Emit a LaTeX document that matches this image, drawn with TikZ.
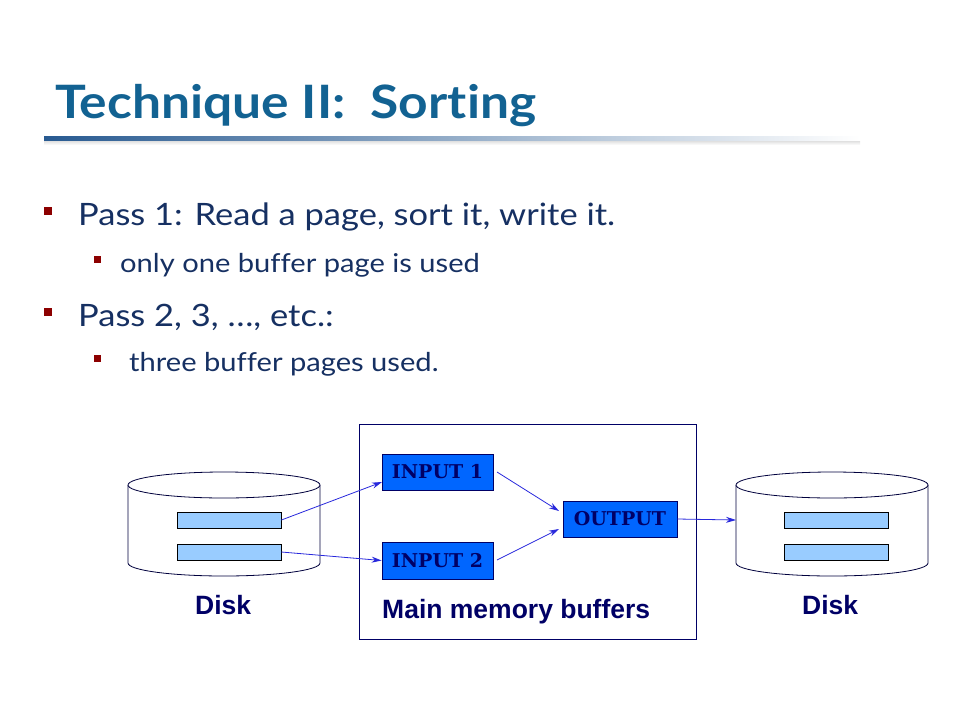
\documentclass[tikz,border=0pt]{standalone}
\usepackage{fontspec}
\setmainfont{Lato}[FakeStretch=1.12, Ligatures=NoCommon]
\newfontfamily\arialf{Liberation Sans}
\newfontfamily\buff{DejaVu Serif}
\usetikzlibrary{arrows.meta}
\definecolor{titleblue}{RGB}{18,98,146}
\definecolor{bodynavy}{RGB}{22,48,98}
\definecolor{bulletred}{RGB}{140,0,0}
\definecolor{navy}{RGB}{0,0,102}
\definecolor{bufblue}{RGB}{0,102,255}
\definecolor{pagefill}{RGB}{153,204,255}
\definecolor{arrowblue}{RGB}{40,40,220}
\definecolor{lineblue}{RGB}{40,90,145}
\tikzset{
  bul/.style={fill=bulletred, draw=none, minimum size=8pt, inner sep=0pt},
  subbul/.style={fill=bulletred, draw=none, minimum size=7pt, inner sep=0pt},
  lvlone/.style={anchor=base west, inner sep=0pt, text=bodynavy, font=\fontsize{30.8}{36}\selectfont},
  lvltwo/.style={anchor=base west, inner sep=0pt, text=bodynavy, font=\fontsize{26}{30}\selectfont},
  page/.style={draw=black, fill=pagefill, line width=0.8pt, minimum width=104pt, minimum height=16pt, inner sep=0pt},
  buf/.style={draw=navy, fill=bufblue, line width=0.8pt, inner sep=0pt, text=navy, font=\buff\bfseries\fontsize{19}{20}\selectfont},
  lbl/.style={anchor=base west, inner sep=0pt, text=navy, font=\arialf\bfseries\fontsize{26.5}{30}\selectfont},
  conn/.style={draw=arrowblue, line width=0.8pt, -{Stealth[length=10pt,width=6pt]}},
  disk/.style={draw=navy!60!black, line width=0.8pt, fill=white},
}
\begin{document}
\begin{tikzpicture}[x=1pt,y=-1pt]
\useasboundingbox (0,0) rectangle (960,720);
% title
\node[anchor=base west, inner sep=0pt, text=titleblue, font=\bfseries\fontsize{46}{50}\selectfont] (title) at (55,118) {Technique II:\ \ Sorting};
\shade[left color=lineblue, right color=white] (44,136) rectangle (860,141);
\shade[top color=black!12, bottom color=white] (44,141) rectangle (860,145);
% bullets
\node[bul] (b1) at (48,211) {};
\node[lvlone] (t1) at (78,225) {Pass 1: Read a page, sort it, write it.};
\node[subbul] (b2) at (97,259) {};
\node[lvltwo] (t2) at (120,272) {only one buffer page is used};
\node[bul] (b3) at (48,312) {};
\node[lvlone] (t3) at (78,326) {Pass 2, 3, \dots, etc.:};
\node[subbul] (b4) at (97,358) {};
\node[lvltwo] (t4) at (129,371) {three buffer pages used.};
% main memory box
\node[draw=navy, line width=0.8pt, minimum width=337pt, minimum height=215pt, inner sep=0pt, anchor=north west] (mem) at (359,424) {};
% left disk
\draw[disk] (128,485) -- (128,563) arc[start angle=180, end angle=0, x radius=96, y radius=13] -- (320,485);
\draw[disk] (224,485) ellipse[x radius=96, y radius=13];
\node[page] (l1) at (229,520) {};
\node[page] (l2) at (229,552) {};
% right disk
\draw[disk] (736,485) -- (736,563) arc[start angle=180, end angle=0, x radius=96, y radius=13] -- (928,485);
\draw[disk] (832,485) ellipse[x radius=96, y radius=13];
\node[page] (r1) at (836.5,520) {};
\node[page] (r2) at (836.5,552) {};
\coordinate (rdisk) at (736,520);
% buffers
\node[buf, minimum width=111pt, minimum height=36pt] (in1) at (437.5,472) {INPUT 1};
\node[buf, minimum width=111pt, minimum height=37pt] (in2) at (437.5,560.5) {INPUT 2};
\node[buf, minimum width=114pt, minimum height=36pt] (out) at (620,519) {OUTPUT};
% connectors
\draw[conn] (l1.east) -- (382,482);
\draw[conn] (l2.east) -- (in2.west);
\draw[conn] (497,472) -- (559,511);
\draw[conn] (497,560) -- (559,529);
\draw[conn] (out.east) -- (rdisk);
% labels
\node[lbl] (d1) at (195,614) {Disk};
\node[lbl] (mm) at (382,618) {Main memory buffers};
\node[lbl] (d2) at (802,614) {Disk};
\end{tikzpicture}
\end{document}
